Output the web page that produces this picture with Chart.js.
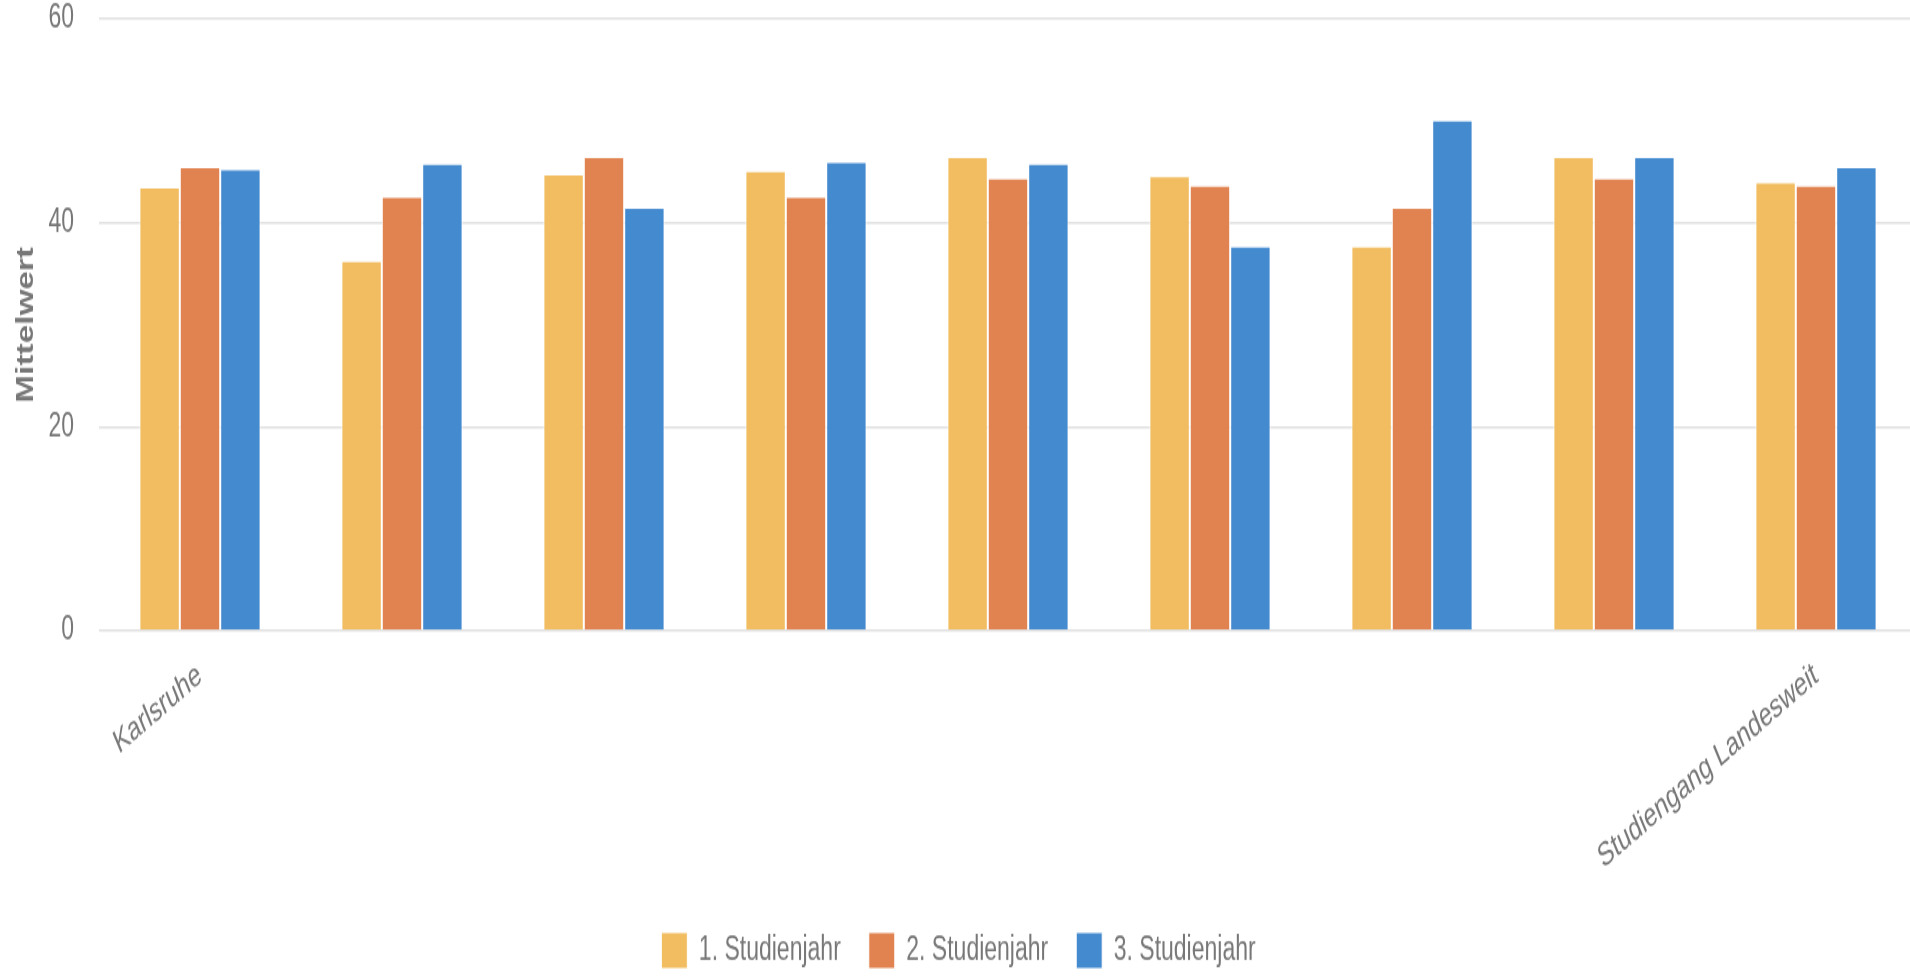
<!DOCTYPE html>
<html>
<head>
    <title>Mittelwert nach Studienjahr</title>
    <script src="https://cdn.jsdelivr.net/npm/chart.js"></script>
    <style>
        body { margin: 0; overflow: hidden; background: #fff; width: 1910px; height: 976px; }
        /* the original picture is stretched vertically, so draw flat and scale up */
        #barChart {
            position: absolute; left: 0; top: 0;
            transform: scaleY(1.45); transform-origin: 0 0;
        }
    </style>
</head>
<body>

<canvas id="barChart" width="1917" height="678"></canvas>

<script>
    // categories (only first and last are labelled in the original)
    const categories = ['Karlsruhe', '', '', '', '', '', '', '', 'Studiengang Landesweit'];

    // series values
    const jahr1 = [43.5, 36.3, 44.8, 45.1, 46.5, 44.6, 37.7, 46.5, 44.0];
    const jahr2 = [45.5, 42.6, 46.5, 42.6, 44.4, 43.7, 41.5, 44.4, 43.7];
    const jahr3 = [45.3, 45.8, 41.5, 46.0, 45.8, 37.7, 50.1, 46.5, 45.5];

    const seriesNames = ['1. Studienjahr', '2. Studienjahr', '3. Studienjahr'];
    const yTicks = [0, 20, 40, 60];

    const fontFamily = "'Liberation Sans', Arial, sans-serif";
    const grey = '#777777';

    function makeSet(label, data, color) {
        return {
            label: label,
            data: data,
            backgroundColor: color,
            borderColor: '#ffffff',
            borderWidth: 1,
            categoryPercentage: 0.6,
            barPercentage: 1.0
        };
    }

    new Chart(document.getElementById('barChart'), {
        type: 'bar',
        data: {
            labels: categories,
            datasets: [
                makeSet(seriesNames[0], jahr1, '#F1BD60'),
                makeSet(seriesNames[1], jahr2, '#E08350'),
                makeSet(seriesNames[2], jahr3, '#448ACF')
            ]
        },
        options: {
            responsive: false,
            animation: false,
            layout: { padding: 0 },
            scales: {
                x: {
                    grid: { display: false },
                    border: { display: false },
                    ticks: {
                        autoSkip: false,
                        minRotation: 31,
                        maxRotation: 31,
                        padding: 9,
                        color: grey,
                        font: { family: fontFamily, size: 23 }
                    },
                    afterFit: function(scale) { scale.height = 180; }
                },
                y: {
                    min: 0,
                    max: 60,
                    afterBuildTicks: function(scale) {
                        scale.ticks = yTicks.map(v => ({ value: v }));
                    },
                    grid: { color: '#e0e0e0', lineWidth: 1.4, drawTicks: false },
                    border: { display: false },
                    ticks: {
                        padding: 25,
                        color: grey,
                        font: { family: fontFamily, size: 23 }
                    },
                    title: {
                        display: true,
                        text: 'Mittelwert',
                        color: grey,
                        padding: { top: 13, bottom: 0 },
                        font: { family: fontFamily, size: 23, weight: 'bold' }
                    },
                    afterFit: function(scale) {
                        scale.width = 99;
                        scale.paddingTop = 13;
                    }
                }
            },
            plugins: {
                legend: {
                    position: 'bottom',
                    labels: {
                        boxWidth: 26,
                        boxHeight: 25,
                        padding: 28,
                        color: grey,
                        font: { family: fontFamily, size: 23 }
                    }
                },
                tooltip: { enabled: false }
            }
        }
    });
</script>
</body>
</html>
